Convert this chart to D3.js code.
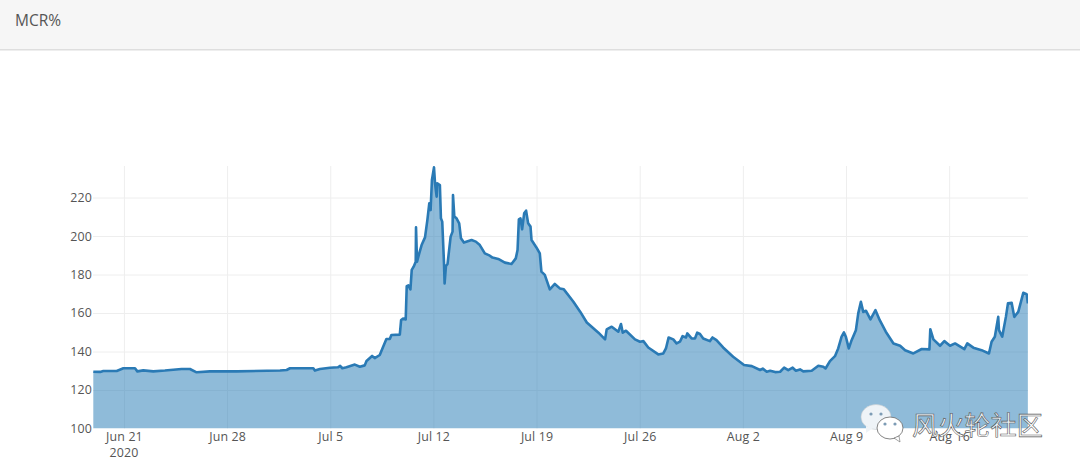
<!DOCTYPE html>
<html><head><meta charset="utf-8">
<script src="https://cdn.jsdelivr.net/npm/d3@7/dist/d3.min.js"></script>
<style>html,body{margin:0;padding:0;background:#fff;overflow:hidden}svg{display:block}</style>
</head><body><svg id="c" width="1080" height="473"></svg>
<script>
const chartTitle = "MCR%";
const watermarkText = "风火轮社区";
const yTicks = [100,120,140,160,180,200,220];
const xTickDays = [0,7,14,21,28,35,42,49,56];
const xTickLabels = ["Jun 21","Jun 28","Jul 5","Jul 12","Jul 19","Jul 26","Aug 2","Aug 9","Aug 16"];
const yearLabel = "2020";
// days since Jun 21 2020
const days = [-2.08,-1.62,-1.4,-0.49,-0.04,0.75,0.91,1.31,1.99,2.78,3.91,4.48,4.93,5.83,7.66,10.59,11.04,11.27,12.85,12.96,13.3,13.98,14.52,14.67,14.82,15.1,15.67,16.01,16.34,16.46,16.84,17.02,17.36,17.59,17.81,18.04,18.15,18.72,18.81,18.94,19.12,19.19,19.3,19.44,19.53,19.66,19.8,19.82,19.89,20.04,20.2,20.43,20.59,20.72,20.81,20.9,21.04,21.11,21.22,21.26,21.44,21.51,21.6,21.72,21.76,21.85,21.96,22.17,22.3,22.33,22.42,22.57,22.75,22.87,23.07,23.59,23.88,24.15,24.49,24.83,25.01,25.4,25.85,26.3,26.59,26.71,26.8,26.91,27.02,27.16,27.29,27.43,27.59,27.66,27.99,28.22,28.33,28.56,28.9,29.24,29.58,29.85,30.5,30.96,31.41,32.2,32.65,32.76,33.1,33.55,33.73,33.85,34.07,34.68,35.02,35.25,35.58,36.26,36.6,36.78,36.96,37.28,37.5,37.73,37.91,38.14,38.23,38.52,38.75,38.9,39.09,39.31,39.76,39.94,40.21,40.66,41.34,42.08,42.61,43.17,43.35,43.62,43.85,44.19,44.53,44.8,45.08,45.38,45.6,45.88,46.1,46.67,47.12,47.46,47.61,47.91,48.25,48.47,48.7,48.86,48.99,49.19,49.38,49.67,49.83,50.01,50.17,50.35,50.66,51.0,51.29,51.7,52.22,52.67,53.01,53.57,54.14,54.66,54.72,54.93,55.38,55.67,56.06,56.4,57.03,57.23,57.64,58.2,58.7,58.88,59.1,59.33,59.38,59.6,59.85,59.99,60.24,60.42,60.69,61.03,61.26,61.34];
const mcr = [129.5,129.4,129.9,129.9,131.3,131.3,129.7,130.2,129.7,130.1,130.9,130.9,129.2,129.7,129.7,130.1,130.4,131.3,131.3,130.1,130.9,131.6,131.8,132.5,131.3,131.8,133.2,132.1,132.8,135.1,137.7,136.6,138.2,142.5,146.5,146.5,148.6,148.8,156.4,157.1,156.7,174,174.4,172.3,182.4,184.1,186.7,204.5,186.7,191,195.3,199.3,208.3,217,213.5,229.1,235.7,227.4,220.5,227.4,226.5,209.2,207.5,185.8,175.4,184.4,185.5,199.7,202.3,221.3,210.1,209.2,206.6,198.8,196.6,197.9,197.1,195.3,191,189.8,188.8,188.1,186.2,185.5,188.4,192.7,208.7,209.2,203.5,211.8,213.2,206.6,204.9,197.9,194.1,191,181.5,179.8,172.3,175.1,172.8,172.3,165.9,160.7,155.1,149.8,146.3,151.5,152.9,150.3,154.3,149.8,150.8,146.3,145.1,145.4,142.1,138.5,139,141.6,147.3,146.3,144.2,145.1,148,147.3,149.4,146.8,146.8,149.8,149.1,146.8,145.4,147.3,145.9,142.1,137.3,133,132.4,130.4,131.1,129.5,130,129.3,129.5,131.6,130.3,131.6,130,130.7,129.7,130,132.6,132.1,131.2,135,137.6,141.6,147.7,149.9,147.7,141.6,145.9,151.1,159.8,165.8,160.6,161.2,156.7,161.5,156.3,150.3,144.2,143,140.7,139,141.3,141.1,151.6,146.3,143,145.4,143,144.2,141.2,144.2,142,140.7,139,145.1,147.7,158,151.1,147.7,158,165,165.3,158,160.6,170.5,169.8,165];

const svg = d3.select("#c");
const L=93,R=1028,T=166,B=428.5;
const base = Date.UTC(2020,5,21);
const toDate = d => new Date(base + d*864e5);
const x = d3.scaleUtc().domain([toDate(-2.1),toDate(61.35)]).range([L,R]);
const y = d3.scaleLinear().domain([100,236.4]).range([B,T]);
const font = "'Open Sans',sans-serif";

// header
svg.append("rect").attr("width",1080).attr("height",49).attr("fill","#f6f6f6");
svg.append("rect").attr("y",49).attr("width",1080).attr("height",1.5).attr("fill","#dedede");
svg.append("text").attr("x",15).attr("y",26).attr("font-family",font).attr("font-size",15.5).attr("fill","#555").text(chartTitle);

// axes + grid
const xAxis = d3.axisBottom(x).tickValues(xTickDays.map(toDate))
  .tickFormat((d,i)=>xTickLabels[i]).tickSize(-(B-T)).tickPadding(3.5);
const gx = svg.append("g").attr("transform",`translate(0,${B})`).call(xAxis);
const yAxis = d3.axisLeft(y).tickValues(yTicks).tickSize(-(R-L)).tickPadding(1);
const gy = svg.append("g").attr("transform",`translate(${L},0)`).call(yAxis);
[gx,gy].forEach(g=>{
  g.select(".domain").remove();
  g.selectAll("line").attr("stroke","#eeeeee").attr("stroke-width",1);
  g.selectAll("text").attr("font-family",font).attr("font-size",12.4).attr("letter-spacing",0.15).attr("fill","#555");
});
gx.selectAll("text").attr("dy","0.71em");
gy.selectAll(".tick").filter(d=>d===100).select("line").remove();
svg.append("text").attr("x",x(toDate(0))).attr("y",457).attr("text-anchor","middle")
  .attr("font-family",font).attr("font-size",12.4).attr("letter-spacing",0.15).attr("fill","#555").text(yearLabel);

// series
const pts = days.map((d,i)=>[toDate(d),mcr[i]]);
const area = d3.area().x(d=>x(d[0])).y0(y(100)).y1(d=>y(d[1]));
const line = d3.line().x(d=>x(d[0])).y(d=>y(d[1]));
svg.append("defs").append("clipPath").attr("id","pc").append("rect").attr("x",L).attr("y",T-4).attr("width",R-L).attr("height",B-T+4);
const plot = svg.append("g").attr("clip-path","url(#pc)");
plot.append("path").attr("d",area(pts)).attr("fill","#1f77b4").attr("fill-opacity",0.5);
plot.append("path").attr("d",line(pts)).attr("fill","none").attr("stroke","#2a7ab5").attr("stroke-width",2.6).attr("stroke-linejoin","round");

// watermark
const wm = svg.append("g");
wm.append("ellipse").attr("cx",876).attr("cy",417).attr("rx",15).attr("ry",12.5).attr("fill","#eef3f7").attr("stroke","#c8ccd0").attr("stroke-width",.6);
wm.append("path").attr("d","M866 426 L866 433 L873 428 Z").attr("fill","#eef3f7");
[[871,414],[881,414]].forEach(p=>wm.append("circle").attr("cx",p[0]).attr("cy",p[1]).attr("r",1.6).attr("fill","#7d9cb5"));
wm.append("ellipse").attr("cx",890).attr("cy",428).attr("rx",13).attr("ry",11).attr("fill","#fff").attr("stroke","#666").attr("stroke-width",.8);
wm.append("path").attr("d","M894 438 L900 442 L899 436 Z").attr("fill","#fff").attr("stroke","#666").attr("stroke-width",.6);
[[885,424],[895,424]].forEach(p=>wm.append("circle").attr("cx",p[0]).attr("cy",p[1]).attr("r",1.6).attr("fill","#7d9cb5"));
wm.append("text").attr("x",912).attr("y",435).attr("font-family","'Noto Sans CJK SC'").attr("font-size",26.2)
  .attr("fill","#fff").attr("fill-opacity",.85).attr("stroke","#555").attr("stroke-width",.6).text(watermarkText);
</script></body></html>
